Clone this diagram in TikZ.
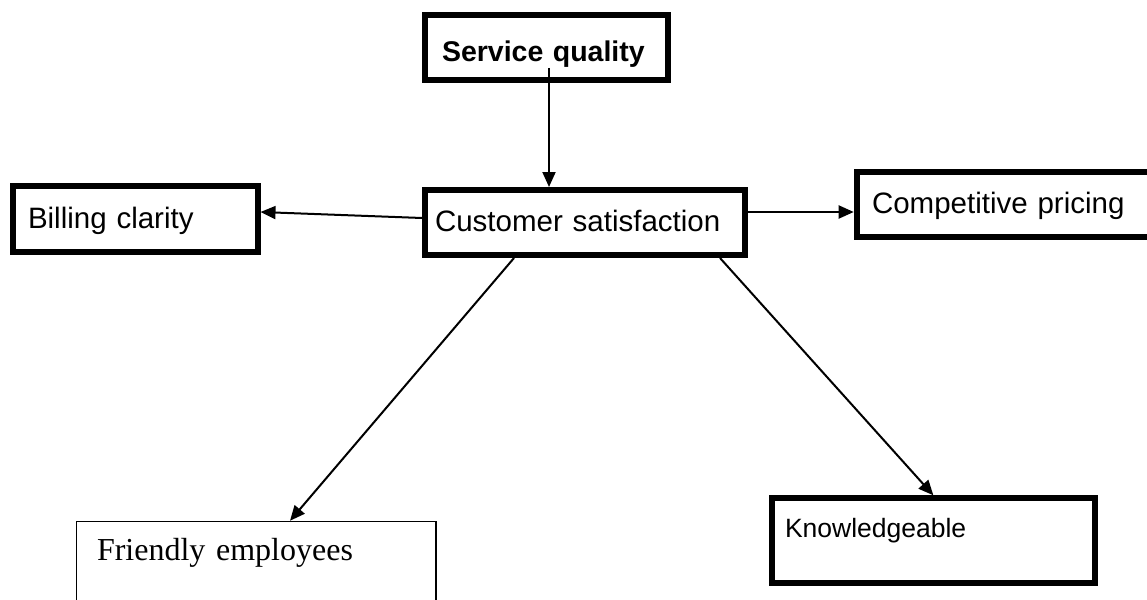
\documentclass[tikz,border=0pt]{standalone}
\usepackage{fontspec}
\setmainfont{Liberation Sans}
\newfontfamily\timesfont{Liberation Serif}
\usetikzlibrary{arrows.meta}

\begin{document}
\begin{tikzpicture}[x=1pt, y=-1pt, >={Triangle[length=15pt,width=13pt]},
    box/.style={draw, rectangle, line width=6pt, anchor=north west, align=left, inner ysep=0pt,
                font=\fontsize{29.5}{34}\selectfont},
    link/.style={->, line width=2pt}]

    \useasboundingbox (0,0) rectangle (1147,599);

    \node[box, inner xsep=17pt, text width=209.3pt, text height=47pt, text depth=18pt,
          font=\fontsize{28.5}{34}\selectfont\bfseries]          (sq) at (422,12)      {Service quality};
    \node[box, inner xsep=10pt, text width=300pt, text height=41pt, text depth=24pt]   (cs) at (422,187)     {Customer satisfaction};
    \node[box, inner xsep=15pt, text width=214.5pt, text height=42pt, text depth=23.5pt] (bc) at (10,183)    {Billing clarity};
    \node[box, inner xsep=15.3pt, text width=272.4pt, text height=41.3pt, text depth=23.7pt] (cp) at (853.7,168.7) {Competitive pricing};
    \node[box, inner xsep=13.3pt, text width=296.7pt, text height=38.7pt, text depth=46.3pt,
          font=\fontsize{26.5}{30}\selectfont]                  (kn) at (768.7,495.3) {Knowledgeable};
    \node[box, line width=1.5pt, inner xsep=20.5pt, text width=318.5pt, text height=38.5pt, text depth=50pt,
          font=\timesfont\fontsize{32}{38}\selectfont]          (fe) at (75.75,520.75) {Friendly employees};

    \draw[link] ([xshift=2.35pt,yshift=15pt]sq.south) -- ([xshift=2.35pt]sq.south |- cs.north);
    \draw[link] ([yshift=4.5pt]cs.west)              -- ([yshift=6.75pt]bc.east);
    \draw[link] ([yshift=10.5pt]cs.east)             -- ([yshift=10.5pt]cs.east -| cp.west);
    \draw[link] ([xshift=-71pt]cs.south)             -- ([xshift=33.75pt]fe.north);
    \draw[link] ([xshift=135pt]cs.south)             -- (kn.north);

\end{tikzpicture}
\end{document}
